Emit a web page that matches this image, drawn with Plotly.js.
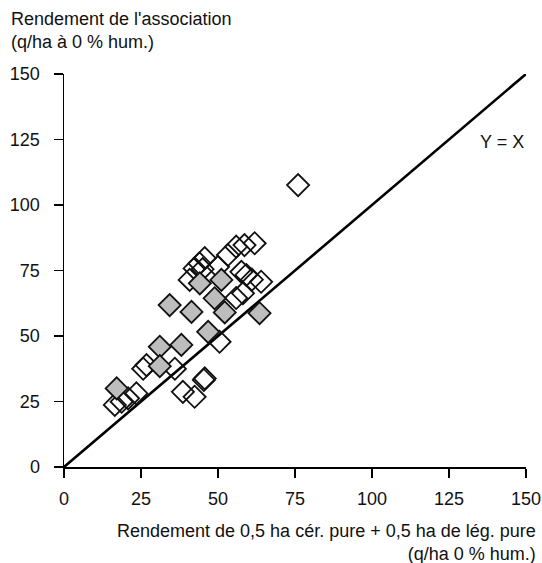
<!DOCTYPE html>
<html>
<head>
<meta charset="utf-8">
<script src="https://cdn.plot.ly/plotly-3.0.1.min.js"></script>
<style>html,body{margin:0;padding:0;background:#fff;}#chart{width:542px;height:563px;}</style>
</head>
<body>
<div id="chart"></div>
<script>
// Open (white) diamonds
const openX = [76, 61.9, 58.6, 55.9, 53.2, 45.7, 44, 42.4, 45, 40.8, 50, 57.6, 59.2, 61, 64, 58.1, 55.9, 50.5, 26.8, 25.7, 36, 38.6, 45.7, 45.4, 42.4, 16.5, 18.7, 20.8, 23.5];
const openY = [107.6, 85.4, 84.7, 84.1, 80.9, 79.7, 77.7, 75.8, 75.5, 71.4, 76.4, 74.5, 73.3, 71.5, 70.7, 66.3, 64.5, 47.8, 38.9, 37.5, 37.5, 28.7, 33.8, 33.2, 26.8, 23.7, 24.9, 26.2, 28.1];
// Filled (grey) diamonds
const filledX = [17.1, 31.1, 38.1, 31.1, 34.3, 41.4, 44.1, 51.1, 48.9, 52.2, 63.5, 46.8];
const filledY = [30.0, 45.9, 46.6, 38.5, 61.8, 59.2, 70.1, 71.4, 64.4, 59.0, 58.7, 51.6];
// Reference line Y = X
const lineX = [0, 150];
const lineY = [0, 150];
const tickVals = [0, 25, 50, 75, 100, 125, 150];
const tickText = ['0', '25', '50', '75', '100', '125', '150'];

const font = {family: 'Liberation Sans, Arial, sans-serif', size: 18, color: '#111'};

const traces = [
  {x: lineX, y: lineY, mode: 'lines', type: 'scatter', line: {color: '#000', width: 2.6}, hoverinfo: 'skip', showlegend: false},
  {x: openX, y: openY, mode: 'markers', type: 'scatter', showlegend: false,
   marker: {symbol: 'diamond', size: 17, color: 'rgba(255,255,255,0)', line: {color: '#111', width: 1.8}}},
  {x: filledX, y: filledY, mode: 'markers', type: 'scatter', showlegend: false,
   marker: {symbol: 'diamond', size: 17, color: '#bdbdbd', line: {color: '#111', width: 1.8}}}
];

const axisCommon = {
  range: [0, 150], tickvals: tickVals, ticktext: tickText, showgrid: false, zeroline: false,
  showline: true, linecolor: '#000', linewidth: 1.5, ticks: 'outside', ticklen: 9, tickwidth: 1.5,
  tickcolor: '#000', tickfont: font, fixedrange: true
};

const PH = 393; // plot height in px
const layout = {
  width: 542, height: 563,
  margin: {l: 64, r: 16, t: 74, b: 96},
  paper_bgcolor: '#fff', plot_bgcolor: '#fff',
  font: font,
  xaxis: Object.assign({}, axisCommon, {ticklabelstandoff: 6}),
  yaxis: Object.assign({}, axisCommon, {ticklabelstandoff: 10}),
  annotations: [
    {text: "Rendement de l'association<br>(q/ha à 0 % hum.)", xref: 'paper', yref: 'paper',
     x: (9 - 64) / 462, y: (467 - 7) / PH, xanchor: 'left', yanchor: 'top', align: 'left', showarrow: false, font: font},
    {text: 'Y = X', x: 150, y: 124, xref: 'x', yref: 'y', xanchor: 'right', yanchor: 'middle', showarrow: false, font: font},
    {text: 'Rendement de 0,5 ha cér. pure + 0,5 ha de lég. pure<br>(q/ha 0 % hum.)', xref: 'paper', yref: 'paper',
     x: (538 - 64) / 462, y: -(519 - 467) / PH, xanchor: 'right', yanchor: 'top', align: 'right', showarrow: false, font: font}
  ]
};

Plotly.newPlot('chart', traces, layout, {displayModeBar: false, staticPlot: true});
</script>
</body>
</html>
